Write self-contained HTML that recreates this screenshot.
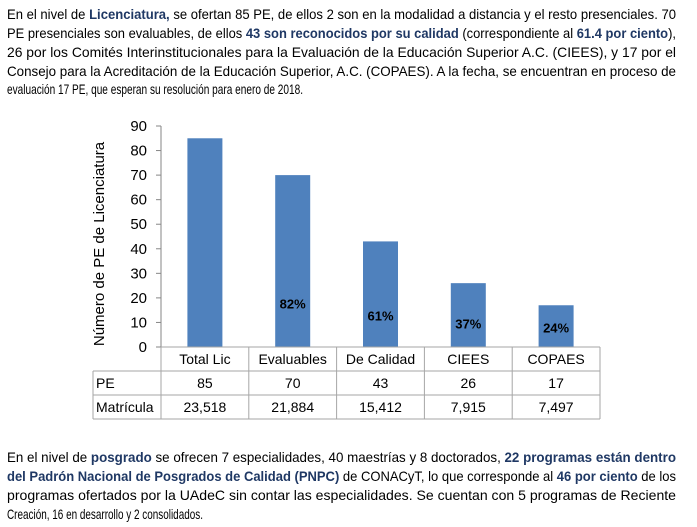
<!DOCTYPE html>
<html><head><meta charset="utf-8"><style>
html,body{margin:0;padding:0;background:#fff;}
svg{display:block;font-family:"Liberation Sans",sans-serif;}
.b{font-weight:bold;fill:#1f3864;}
</style></head><body>
<svg width="697" height="527" viewBox="0 0 697 527">
<g font-size="14" fill="#000">
<text x="7" y="19" textLength="669" lengthAdjust="spacingAndGlyphs">En el nivel de <tspan class="b">Licenciatura,</tspan> se ofertan 85 PE, de ellos 2 son en la modalidad a distancia y el resto presenciales. 70</text>
<text x="7" y="38" textLength="669" lengthAdjust="spacingAndGlyphs">PE presenciales son evaluables, de ellos <tspan class="b">43 son reconocidos por su calidad</tspan> (correspondiente al <tspan class="b">61.4 por ciento</tspan>),</text>
<text x="7" y="57" textLength="669" lengthAdjust="spacingAndGlyphs">26 por los Comités Interinstitucionales para la Evaluación de la Educación Superior A.C. (CIEES), y 17 por el</text>
<text x="7" y="76" textLength="669" lengthAdjust="spacingAndGlyphs">Consejo para la Acreditación de la Educación Superior, A.C. (COPAES). A la fecha, se encuentran en proceso de</text>
<text x="7" y="94" textLength="296" lengthAdjust="spacingAndGlyphs">evaluación 17 PE, que esperan su resolución para enero de 2018.</text>
</g>
<g id="chart"></g>
<g font-size="14" fill="#000">
<text x="7" y="462" textLength="669" lengthAdjust="spacingAndGlyphs">En el nivel de <tspan class="b">posgrado</tspan> se ofrecen 7 especialidades, 40 maestrías y 8 doctorados, <tspan class="b">22 programas están dentro</tspan></text>
<text x="7" y="481" textLength="669" lengthAdjust="spacingAndGlyphs"><tspan class="b">del Padrón Nacional de Posgrados de Calidad (PNPC)</tspan> de CONACyT, lo que corresponde al <tspan class="b">46 por ciento</tspan> de los</text>
<text x="7" y="500" textLength="669" lengthAdjust="spacingAndGlyphs">programas ofertados por la UAdeC sin contar las especialidades. Se cuentan con 5 programas de Reciente</text>
<text x="7" y="519" textLength="196" lengthAdjust="spacingAndGlyphs">Creación, 16 en desarrollo y 2 consolidados.</text>
</g>
</svg>
<script>
const categories = ["Total Lic","Evaluables","De Calidad","CIEES","COPAES"];
const peValues = [85,70,43,26,17];
const matricula = ["23,518","21,884","15,412","7,915","7,497"];
const pctLabels = ["","82%","61%","37%","24%"];
const yTicks = [0,10,20,30,40,50,60,70,80,90];

const NS="http://www.w3.org/2000/svg";
const g=document.getElementById('chart');
const x0=161, x1=600, yBase=347, yTop=126, yMax=90;
const cw=(x1-x0)/categories.length;
const y=v=>yBase-(v/yMax)*(yBase-yTop);
const xc=i=>x0+cw*(i+0.5);
function mk(tag,attrs,txt){const e=document.createElementNS(NS,tag);for(const k in attrs)e.setAttribute(k,attrs[k]);if(txt!==undefined)e.textContent=txt;g.appendChild(e);return e;}

yTicks.forEach(t=>{
  const tk=mk('line',{x1:x0-5,x2:x0,y1:y(t),y2:y(t),stroke:'#868686'});
  
  
  const l=mk('text',{x:147,y:y(t)+5,'text-anchor':'end','font-size':15,fill:'#000'},t);
  
  
});
const ax=mk('line',{x1:x0,x2:x0,y1:yTop,y2:yBase,stroke:'#868686'});


const yt=mk('text',{x:0,y:0,'font-size':15,'text-anchor':'middle',transform:'translate(108,244) rotate(-90)',fill:'#000'},'Número de PE de Licenciatura');
yt.setAttribute('transform','translate(104,244) rotate(-90)');



peValues.forEach((v,i)=>{
  const b=mk('rect',{x:xc(i)-17.5,y:y(v),width:35,height:yBase-y(v),fill:'#4f81bd'});
  
  
  if(pctLabels[i]){
    const t=mk('text',{x:xc(i),y:yBase-(0.45*v+12)+5,'text-anchor':'middle','font-size':13,'font-weight':'bold',fill:'#000'},pctLabels[i]);
    
    
  }
});

const gc='#a6a6a6';
mk('line',{x1:x0,x2:x1,y1:347,y2:347,stroke:gc});
[371,395,419].forEach(r=>{const l=mk('line',{x1:93,x2:x1,y1:r,y2:r,stroke:gc});});
mk('line',{x1:93,x2:93,y1:371,y2:419,stroke:gc});
for(let i=0;i<=categories.length;i++){const l=mk('line',{x1:x0+cw*i,x2:x0+cw*i,y1:347,y2:419,stroke:gc});}
categories.forEach((c,i)=>{
  const a=mk('text',{x:xc(i),y:364,'text-anchor':'middle','font-size':14,fill:'#000'},c);
  
  
  const p=mk('text',{x:xc(i),y:388,'text-anchor':'middle','font-size':14,fill:'#000'},peValues[i]);
  
  
  const m=mk('text',{x:xc(i),y:412,'text-anchor':'middle','font-size':14,fill:'#000'},matricula[i]);
  
  
});
const h1=mk('text',{x:96,y:388,'font-size':14,fill:'#000'},'PE');


const h2=mk('text',{x:96,y:412,'font-size':14,fill:'#000'},'Matrícula');


</script>
</body></html>
